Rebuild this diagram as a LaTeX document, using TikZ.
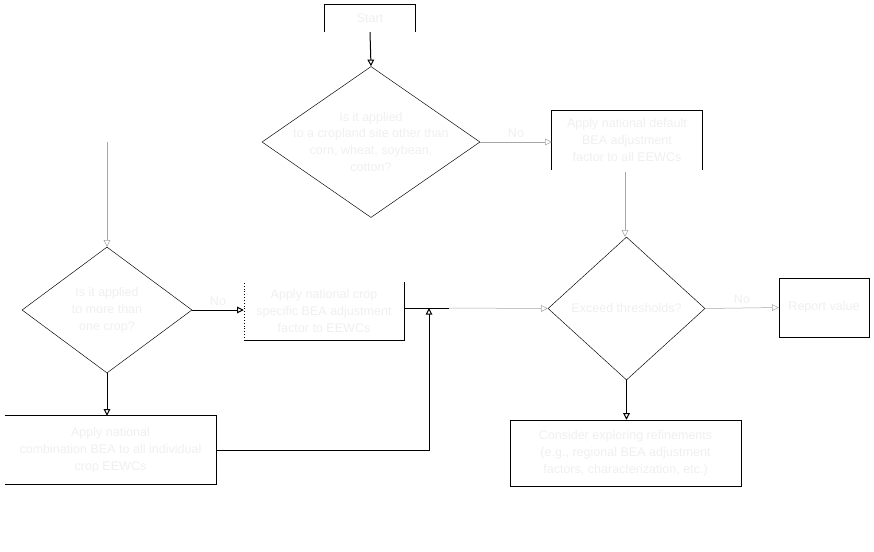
\documentclass[tikz,border=0pt]{standalone}
\usepackage{fontspec}
\setmainfont{Liberation Sans}
\usetikzlibrary{shapes.geometric,arrows.meta,calc}
\definecolor{faint}{HTML}{EFEFEF}
\newcommand{\chartfont}{\fontsize{10.7}{14.5}\selectfont}
\tikzstyle{connector} = [line width=0.3mm,-{Triangle[open,length=2mm,width=2mm]}]
\tikzstyle{thin connector} = [connector,line width=0.15mm,draw=gray!70]
\tikzstyle{decision} = [diamond, draw, aspect=1, inner sep=0pt, text=faint, align=center, font=\chartfont]
\tikzstyle{process} = [rectangle, inner sep=0pt, text=faint, align=center, font=\chartfont]

\begin{document}
\begin{tikzpicture}[x=0.03cm,y=-0.03cm]
        \useasboundingbox (0,0) rectangle (874,551);
        \node (start) [process, minimum width=2.7cm, minimum height=0.81cm] at (370,18.5) {Start};
        \node (site) [decision, minimum width=6.54cm, minimum height=4.53cm, aspect=1.44, inner sep=-9pt] at (371,142) {Is it applied\\to a cropland site other than\\corn, wheat, soybean,\\cotton?};
        \node (default) [process, minimum width=4.5cm, minimum height=1.77cm] at (627,140.5) {Apply national default\\BEA adjustment\\factor to all EEWCs};
        \coordinate (top-left) at (107,142);
        \coordinate (top-right) at (625,172);
        \node (crops) [decision, minimum width=5.1cm, minimum height=3.78cm, aspect=1.35] at (107,310) {Is it applied\\to more than\\one crop?};
        \node (specific) [process, minimum width=4.8cm, minimum height=1.74cm] at (324,311) {Apply national crop\\specific BEA adjustment\\factor to EEWCs};
        \node (combo) [process, minimum width=6.33cm, minimum height=2.04cm] at (110.5,450) {Apply national\\combination BEA to all individual\\crop EEWCs};
        \node (threshold) [decision, minimum width=4.71cm, minimum height=4.29cm, aspect=1.1] at (626.5,308.5) {Exceed thresholds?};
        \node (report) [process, draw, minimum width=2.7cm, minimum height=1.77cm] at (824,307.5) {Report value};
        \node (refine) [process, draw, minimum width=6.93cm, minimum height=1.98cm] at (625.5,453) {Consider exploring refinements\\(e.g., regional BEA adjustment\\factors, characterization, etc.)};
        \coordinate (join) at (449,308);
        % open boxes
        \draw [line width=0.3mm] (start.south west) -- (start.north west) -- (start.north east) -- (start.south east);
        \draw [line width=0.3mm] (default.south west) -- (default.north west) -- (default.north east) -- (default.south east);
        \draw [line width=0.3mm] (specific.north east) -- (specific.south east) -- (specific.south west);
        \draw [line width=0.15mm,dotted] (specific.south west) -- (specific.north west);
        \draw [line width=0.3mm] (combo.north west) -- (combo.north east) -- (combo.south east) -- (combo.south west);
        % connectors
        \draw [connector] (start.south) -- (site.north);
        \draw [thin connector] (site.east) -- node[above, text=faint, font=\chartfont] {No} (default.west |- site.east);
        \draw [thin connector] (top-left) -- (crops.north);
        \draw [thin connector] (top-right) -- (threshold.north -| top-right);
        \draw [connector] (crops.east) -- node[above, text=faint, font=\chartfont] {No} (specific.west |- crops.east);
        \draw [connector] (crops.south) -- (combo.north -| crops.south);
        \draw [connector,-] (specific.east |- join) -- (join);
        \draw [thin connector] (join) -- (threshold.west);
        \draw [connector] (combo.east) -| ($(join)+(-20,0)$);
        \draw [thin connector] (threshold.east) -- node[above, text=faint, font=\chartfont] {No} (report.west);
        \draw [connector] (threshold.south) -- (refine.north -| threshold.south);
    \end{tikzpicture}
\end{document}
